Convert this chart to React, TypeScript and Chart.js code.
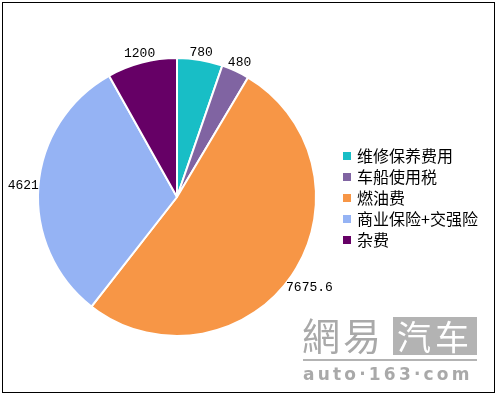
import React, { useEffect, useRef } from "react";
import { Chart, registerables } from "chart.js";

Chart.register(...registerables);

const categories = ["维修保养费用", "车船使用税", "燃油费", "商业保险+交强险", "杂费"];
const values = [780, 480, 7675.6, 4621, 1200];
const valueLabels = ["780", "480", "7675.6", "4621", "1200"];
const colors = ["#18bec6", "#8064a2", "#f79646", "#95b3f4", "#660066"];

const labelPlugin = {
  id: "outsideLabels",
  afterDraw(chart: any) {
    const ctx = chart.ctx;
    const meta = chart.getDatasetMeta(0);
    ctx.save();
    ctx.font = "13px 'Liberation Mono', monospace";
    ctx.fillStyle = "#000";
    ctx.textAlign = "center";
    ctx.textBaseline = "middle";
    meta.data.forEach((arc: any, i: number) => {
      const p = arc.getProps(["x", "y", "startAngle", "endAngle", "outerRadius"], true);
      const mid = (p.startAngle + p.endAngle) / 2;
      const cx = Math.cos(mid);
      const sy = Math.sin(mid);
      const text = valueLabels[i];
      const w = ctx.measureText(text).width;
      const h = 11;
      const dist = p.outerRadius + (w / 2) * Math.abs(cx) * 0.95 + (h / 2) * Math.abs(sy);
      ctx.fillText(text, p.x + cx * dist, p.y + sy * dist);
    });
    ctx.restore();
  },
};

const legendPlugin = {
  id: "customLegend",
  afterDraw(chart: any) {
    const ctx = chart.ctx;
    const labels = chart.data.labels as string[];
    const bg = chart.data.datasets[0].backgroundColor as string[];
    ctx.save();
    ctx.font = "16px 'Noto Sans CJK SC', sans-serif";
    ctx.textBaseline = "middle";
    ctx.textAlign = "left";
    labels.forEach((lab, i) => {
      const y = 156 + i * 21;
      ctx.fillStyle = bg[i];
      ctx.fillRect(343, y - 4, 8, 8);
      ctx.fillStyle = "#000";
      ctx.fillText(lab, 357, y);
    });
    ctx.restore();
  },
};

export default function App() {
  const ref = useRef<HTMLCanvasElement>(null);
  useEffect(() => {
    if (!ref.current) return;
    const chart = new Chart(ref.current, {
      type: "pie",
      data: {
        labels: categories,
        datasets: [
          {
            data: values,
            backgroundColor: colors,
            borderColor: "#ffffff",
            borderWidth: 2,
          },
        ],
      },
      options: {
        animation: false,
        responsive: false,
        layout: { padding: { left: 37, top: 57, right: 180, bottom: 59 } },
        plugins: {
          legend: { display: false },
          tooltip: { enabled: false },
        },
      },
      plugins: [labelPlugin, legendPlugin],
    });
    return () => chart.destroy();
  }, []);

  const gray = "#a9a9a9";
  return (
    <div style={{ position: "fixed", left: 0, top: 0, width: 497, height: 396, background: "#fff" }}>
      <div
        style={{
          position: "absolute",
          left: 2,
          top: 2,
          width: 493,
          height: 391,
          border: "1.5px solid #000",
          boxSizing: "border-box",
        }}
      />
      <canvas ref={ref} width={497} height={396} style={{ position: "absolute", left: 0, top: 0 }} />
      <div
        style={{
          position: "absolute",
          left: 302,
          top: 313,
          width: 90,
          height: 42,
          color: gray,
          font: "38px 'Noto Sans CJK TC', sans-serif",
          lineHeight: "42px",
          letterSpacing: 3,
          whiteSpace: "nowrap",
        }}
      >
        網易
      </div>
      <div
        style={{
          position: "absolute",
          left: 393,
          top: 317,
          width: 84,
          height: 38,
          background: "#b3b3b3",
          color: "#fff",
          font: "34px 'Noto Sans CJK SC', sans-serif",
          lineHeight: "38px",
          textAlign: "center",
          letterSpacing: 4,
        }}
      >
        汽车
      </div>
      <div style={{ position: "absolute", left: 303, top: 359, width: 174, height: 2, background: "#b3b3b3" }} />
      <div
        style={{
          position: "absolute",
          left: 303,
          top: 364,
          width: 176,
          color: gray,
          font: "bold 17px 'DejaVu Sans', sans-serif",
          lineHeight: "20px",
          letterSpacing: 3.2,
          whiteSpace: "nowrap",
        }}
      >
        auto·163·com
      </div>
    </div>
  );
}
